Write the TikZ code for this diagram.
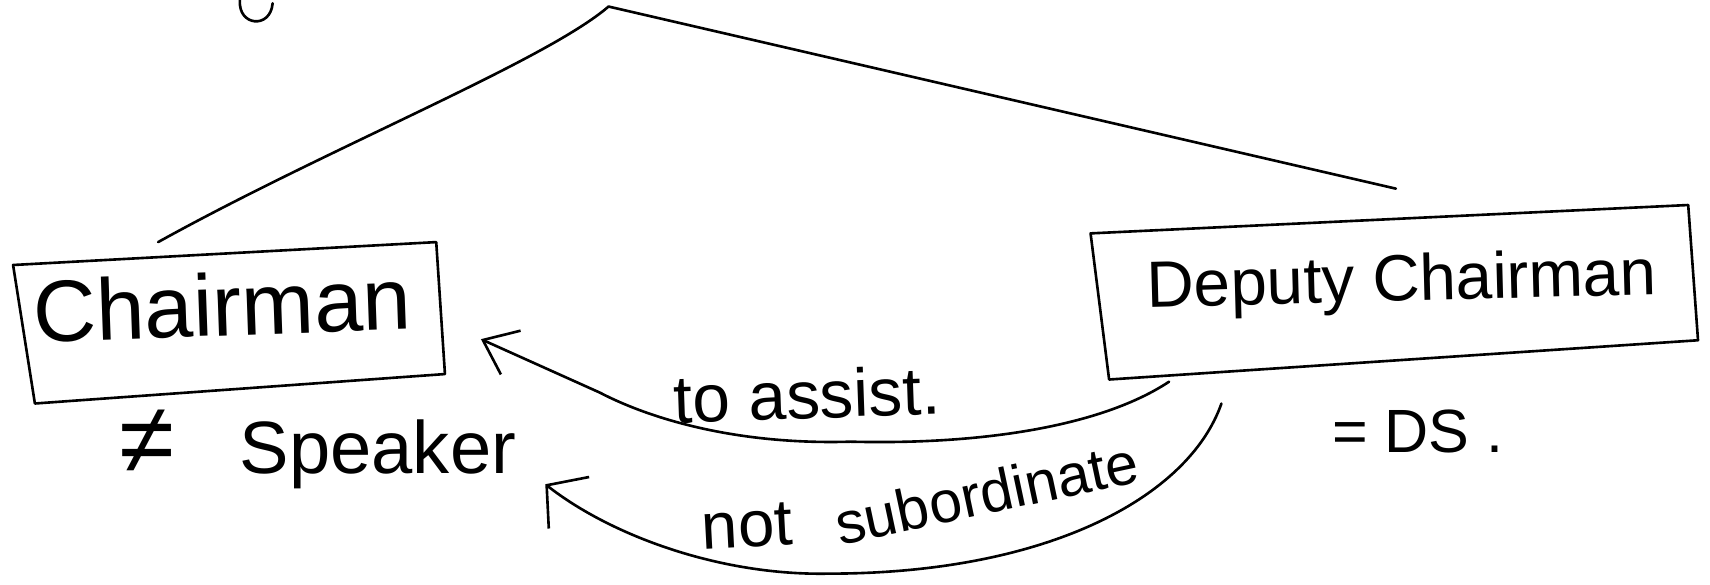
\documentclass[tikz,border=0pt]{standalone}
\usepackage{fontspec}
\setmainfont{Liberation Sans}
\usetikzlibrary{arrows.meta}
\begin{document}
\begin{tikzpicture}[x=0.5pt,y=0.5pt,
  ink/.style={draw=black,line width=1.2pt,line cap=round,line join=round},
  lbl/.style={inner sep=0pt,anchor=base west,text=black},
  tipA/.style={-{Straight Barb[length=14pt,width=22pt]}},
  tipB/.style={-{Straight Barb[length=13pt,width=30pt]}}]
\useasboundingbox (0,0) rectangle (1568,536);

% boxes
\coordinate (c1) at (12,293);
\coordinate (c2) at (400,314);
\coordinate (c3) at (408,193);
\coordinate (c4) at (32,166);
\draw[ink] (c1) -- (c2) -- (c3) -- (c4) -- cycle;
\coordinate (d1) at (1000,322);
\coordinate (d2) at (1548,348);
\coordinate (d3) at (1557,224);
\coordinate (d4) at (1017,188);
\draw[ink] (d1) -- (d2) -- (d3) -- (d4) -- cycle;

% box texts
\node[lbl,rotate=2,font=\fontsize{40}{40}\selectfont] (chair) at (31,222) {Chairman};
\node[lbl,rotate=1.5,font=\fontsize{30}{30}\selectfont] (deputy) at (1052,254) {Deputy Chairman};

% tree lines
\coordinate (apex) at (558,530);
\coordinate (lend) at (145,314);
\coordinate (rend) at (1280,363);
\draw[ink] (lend) .. controls (300,400) and (500,480) .. (apex) -- (rend);

% fragment at top edge
\draw[ink] (220,536) .. controls (218,512) and (248,509) .. (250,533);

% arrows
\coordinate (a1s) at (1072,186);
\coordinate (a1m) at (780,131);
\coordinate (a1b) at (550,176);
\coordinate (a1e) at (441,225);
\draw[ink,tipA] (a1s) .. controls (1010,145) and (900,128) .. (a1m)
  .. controls (680,128) and (600,150) .. (a1b) -- (a1e);

\coordinate (a2s) at (1120,166);
\coordinate (a2m) at (760,10);
\coordinate (a2e) at (500,92);
\draw[ink,tipB] (a2s) .. controls (1090,80) and (960,10) .. (a2m)
  .. controls (660,8) and (560,45) .. (a2e);

% labels
\node[lbl,font=\fontsize{34}{34}\selectfont] (spk) at (109,102) {{\fontsize{46}{46}\selectfont ≠}\hspace{30pt}Speaker};
\node[lbl,font=\fontsize{28}{28}\selectfont] (ds) at (1221,121) {= DS .};
\node[lbl,rotate=2,font=\fontsize{31}{31}\selectfont] (assist) at (618,148) {to assist.};
\node[lbl,rotate=3,font=\fontsize{30}{30}\selectfont] (subnot) at (644,32) {not};
\node[lbl,rotate=12,font=\fontsize{27}{27}\selectfont] (subord) at (770,36) {subordinate};
\end{tikzpicture}
\end{document}
